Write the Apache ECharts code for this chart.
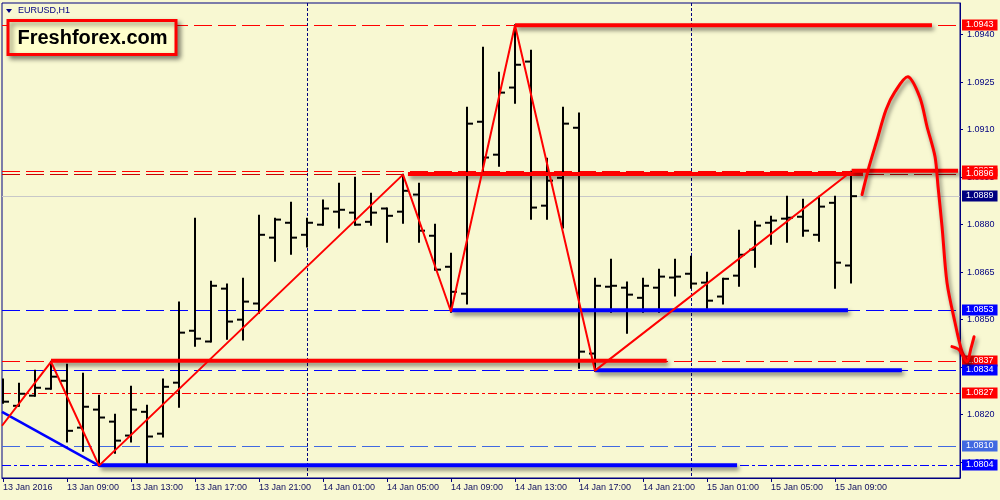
<!DOCTYPE html>
<html><head><meta charset="utf-8">
<script src="https://cdn.jsdelivr.net/npm/echarts@6/dist/echarts.min.js"></script>
<style>html,body{margin:0;padding:0;background:#f8f8d2;}#c{width:1000px;height:500px;}</style>
</head><body><div id="c"></div>
<script>
// ---- data (hour index counted from 13 Jan 00:00) ----
const hours = [5,6,7,8,9,10,11,12,13,14,15,16,17,18,19,20,21,22,23,24,25,26,27,28,29,30,31,32,33,34,35,36,37,38,39,40,41,42,43,44,45,46,47,48,49,50,51,52,53,54,55,56,57,58];
const opens  = [1.08292,1.08228,1.08260,1.08282,1.08307,1.08159,1.08216,1.08178,1.08134,1.08209,1.08140,1.08301,1.08465,1.08431,1.08598,1.08500,1.08551,1.08759,1.08806,1.08768,1.08800,1.08841,1.08838,1.08809,1.08851,1.08841,1.08895,1.08765,1.08667,1.08582,1.09125,1.09021,1.09233,1.09315,1.08860,1.08948,1.09106,1.08393,1.08604,1.08601,1.08569,1.08601,1.08633,1.08645,1.08617,1.08573,1.08639,1.08721,1.08806,1.08819,1.08825,1.08768,1.08869,1.08671];
const highs  = [1.08311,1.08298,1.08339,1.08367,1.08358,1.08329,1.08260,1.08200,1.08288,1.08228,1.08311,1.08554,1.08819,1.08620,1.08611,1.08629,1.08828,1.08819,1.08869,1.08819,1.08876,1.08929,1.08948,1.08898,1.08851,1.08958,1.08929,1.08800,1.08708,1.09169,1.09359,1.09280,1.09430,1.09349,1.09008,1.09169,1.09151,1.08629,1.08689,1.08617,1.08629,1.08658,1.08689,1.08699,1.08648,1.08629,1.08781,1.08809,1.08825,1.08888,1.08879,1.08888,1.08888,1.08967];
const lows   = [1.08238,1.08228,1.08260,1.08282,1.08115,1.08086,1.08039,1.08080,1.08115,1.08042,1.08131,1.08225,1.08418,1.08431,1.08440,1.08437,1.08522,1.08686,1.08708,1.08731,1.08800,1.08791,1.08800,1.08800,1.08746,1.08806,1.08746,1.08658,1.08525,1.08551,1.08967,1.08986,1.09185,1.08819,1.08819,1.08791,1.08348,1.08339,1.08525,1.08459,1.08525,1.08525,1.08576,1.08601,1.08538,1.08551,1.08607,1.08667,1.08740,1.08746,1.08765,1.08749,1.08601,1.08617];
const closes = [1.08241,1.08266,1.08285,1.08320,1.08149,1.08225,1.08191,1.08118,1.08216,1.08131,1.08288,1.08459,1.08440,1.08607,1.08494,1.08557,1.08768,1.08816,1.08759,1.08806,1.08851,1.08847,1.08800,1.08838,1.08828,1.08907,1.08781,1.08658,1.08588,1.09119,1.09012,1.09217,1.09305,1.08854,1.08939,1.09119,1.08399,1.08607,1.08607,1.08579,1.08607,1.08636,1.08636,1.08614,1.08560,1.08629,1.08705,1.08797,1.08813,1.08822,1.08781,1.08857,1.08680,1.08890];

const tickHours  = [5,9,13,17,21,25,29,33,37,41,45,49,53,57];
const tickLabels = ['13 Jan 2016','13 Jan 09:00','13 Jan 13:00','13 Jan 17:00','13 Jan 21:00','14 Jan 01:00','14 Jan 05:00','14 Jan 09:00','14 Jan 13:00','14 Jan 17:00','14 Jan 21:00','15 Jan 01:00','15 Jan 05:00','15 Jan 09:00'];
const priceTicks = [1.0805,1.0820,1.0835,1.0850,1.0865,1.0880,1.0895,1.0910,1.0925,1.0940];
const daySeparators = [24,48];

// horizontal price levels with right-hand tags
const levelPrices = [1.0943,1.0897,1.0896,1.0889,1.0853,1.0837,1.0834,1.0827,1.0810,1.0804];

// zigzag and trend line
const zigzagHours  = [4.9375,8,11,30,33,37,42,58];
const zigzagPrices = [1.08165,1.08367,1.08039,1.08958,1.08525,1.09430,1.08339,1.08967];
const blueTrendHours  = [4.9375,11];
const blueTrendPrices = [1.08209,1.08039];

// thick support / resistance segments
const segFrom  = [37,30.31,58.04,8,33,42,11];
const segTo    = [63.06,58.75,64.69,46.48,57.81,61.18,50.88];
const segPrice = [1.0943,1.0896,1.0897,1.0837,1.0853,1.0834,1.0804];

// hand-drawn forecast curve and its arrow head
const curveHours  = [58.69,59.13,59.63,60.19,60.75,61.56,62.31,62.75,63.25,63.44,63.69,64.0,64.5,64.94,65.31];
const curvePrices = [1.08895,1.08983,1.09068,1.09163,1.09220,1.09267,1.09201,1.09110,1.09015,1.08920,1.08794,1.08617,1.08491,1.08399,1.08367];
const arrowHours  = [64.31,64.75,65.25,65.5,65.69];
const arrowPrices = [1.08415,1.08405,1.08367,1.08410,1.08446];

// ---- styles ----
const NAVY = '#000080';
const FONT = 'Liberation Sans';
const levelStyles = [
  {line:'#ff0000', dash:[18,6], bg:'#ff0000'},
  {line:'#ff0000', dash:[18,6], bg:'#ff0000'},
  {line:'#cc0000', dash:[18,6], bg:'#ff0000'},
  {line:'#c8c8c8', dash:null,   bg:'#000080'},
  {line:'#0000ff', dash:[18,6], bg:'#0000ff'},
  {line:'#ff0000', dash:[18,6], bg:'#ff0000'},
  {line:'#0000ff', dash:[18,6], bg:'#0000ff'},
  {line:'#ff0000', dash:[9,3,3,3], bg:'#ff0000'},
  {line:'#4169e1', dash:[18,6], bg:'#4169e1'},
  {line:'#0000ff', dash:[9,3,3,3], bg:'#0000ff'}
];
const segColors = ['#ff0000','#ff0000','#ff0000','#ff0000','#0000ff','#0000ff','#0000ff'];
const shadow = {shadowColor:'rgba(0,0,0,0.5)', shadowBlur:4, shadowOffsetX:2, shadowOffsetY:3};

const ohlc = hours.map((h,i)=>[h,opens[i],highs[i],lows[i],closes[i]]);

const series = [];
// price level lines + tags
series.push({
  type:'custom', z:1, silent:true, clip:false,
  data:levelPrices.map(p=>[hours[0],p]),
  renderItem:function(params, api){
    const cs = params.coordSys;
    const i = params.dataIndex;
    const y = api.coord([api.value(0), api.value(1)])[1];
    const yy = Math.round(y)+0.5;
    const s = levelStyles[i];
    return {type:'group', children:[
      {type:'line', shape:{x1:cs.x, y1:yy, x2:cs.x+cs.width, y2:yy},
        style:{stroke:s.line, lineWidth:1, lineDash:s.dash}},
      {type:'text', x:cs.x+cs.width+2, y:Math.round(y), z2:10+i,
        style:{text:api.value(1).toFixed(4), fill:'#ffffff', backgroundColor:s.bg,
          padding:[1,4,0,4], font:'9px "Liberation Sans"', align:'left', verticalAlign:'middle', lineHeight:10}}
    ]};
  }
});
// day separators
series.push({
  type:'custom', z:1, silent:true, clip:true,
  data:daySeparators.map(h=>[h,levelPrices[0]]),
  renderItem:function(params, api){
    const cs = params.coordSys;
    const x = Math.round(api.coord([api.value(0), api.value(1)])[0])+0.5;
    return {type:'line', shape:{x1:x, y1:cs.y, x2:x, y2:cs.y+cs.height},
      style:{stroke:NAVY, lineWidth:1, lineDash:[3,2]}};
  }
});
// OHLC bars
series.push({
  type:'custom', clip:true, z:2, silent:true,
  data:ohlc,
  renderItem:function(params, api){
    const x = api.value(0);
    const pO = api.coord([x, api.value(1)]);
    const pH = api.coord([x, api.value(2)]);
    const pL = api.coord([x, api.value(3)]);
    const pC = api.coord([x, api.value(4)]);
    const cx = Math.round(pH[0]);
    const st = {stroke:'#000000', lineWidth:2};
    return {type:'group', children:[
      {type:'line', shape:{x1:cx, y1:pH[1]-1, x2:cx, y2:pL[1]+1}, style:st},
      {type:'line', shape:{x1:cx-6, y1:pO[1], x2:cx, y2:pO[1]}, style:st},
      {type:'line', shape:{x1:cx, y1:pC[1], x2:cx+6, y2:pC[1]}, style:st}
    ]};
  }
});
series.push({
  type:'line', z:4, silent:true, symbol:'none', clip:true,
  data:blueTrendHours.map((h,i)=>[h,blueTrendPrices[i]]),
  lineStyle:{color:'#0000ff', width:2.5}
});
segPrice.forEach((p,i)=>{
  series.push({
    type:'line', z:5, silent:true, symbol:'none', clip:false,
    data:[[segFrom[i],p],[segTo[i],p]],
    lineStyle:Object.assign({color:segColors[i], width:4}, shadow)
  });
});
series.push({
  type:'line', z:6, silent:true, symbol:'none', clip:true,
  data:zigzagHours.map((h,i)=>[h,zigzagPrices[i]]),
  lineStyle:{color:'#ff0000', width:2}
});
// hand-drawn forecast curve with arrow (drawn outside the plot on the right)
series.push({
  type:'custom', z:7, silent:true, clip:false,
  data:[[curveHours[0],curvePrices[0]]],
  renderItem:function(params, api){
    const cpts = curveHours.map((h,i)=>api.coord([h,curvePrices[i]]));
    const apts = arrowHours.map((h,i)=>api.coord([h,arrowPrices[i]]));
    const st = Object.assign({stroke:'#ff0000', lineWidth:3, fill:null, lineJoin:'round', lineCap:'round'}, shadow);
    return {type:'group', children:[
      {type:'polyline', shape:{points:cpts, smooth:0.3}, style:st},
      {type:'polyline', shape:{points:apts, smooth:0.3}, style:st}
    ]};
  }
});

const chart = echarts.init(document.getElementById('c'), null, {renderer:'canvas'});
chart.setOption({
  animation:false,
  backgroundColor:'#f8f8d2',
  grid:{left:2, right:40, top:3, bottom:22, show:true, borderColor:NAVY, borderWidth:1, backgroundColor:'transparent'},
  xAxis:{
    type:'value', min:4.9375, max:64.8125,
    axisLine:{show:true, lineStyle:{color:NAVY, width:1}},
    axisTick:{show:true, customValues:tickHours, length:4, lineStyle:{color:NAVY}},
    axisLabel:{show:true, customValues:tickHours, align:'left', margin:5, color:'#101060',
      fontFamily:FONT, fontSize:9,
      formatter:v=>{const k=tickHours.indexOf(Math.round(v)); return k>=0?tickLabels[k]:'';}},
    splitLine:{show:false}
  },
  yAxis:{
    type:'value', position:'right', min:1.0800, max:1.0950,
    axisLine:{show:true, lineStyle:{color:NAVY, width:1}},
    axisTick:{show:true, customValues:priceTicks, length:3, lineStyle:{color:NAVY}},
    axisLabel:{show:true, customValues:priceTicks, margin:7, color:NAVY,
      fontFamily:FONT, fontSize:9, formatter:v=>v.toFixed(4)},
    splitLine:{show:false}
  },
  graphic:[
    {type:'polygon', shape:{points:[[6,9],[12,9],[9,13]]}, style:{fill:NAVY}, z:100},
    {type:'text', x:18, y:11, style:{text:'EURUSD,H1', fill:NAVY, font:'9px "Liberation Sans"', verticalAlign:'middle'}, z:100},
    {type:'rect', shape:{x:8, y:20.5, width:168, height:34},
     style:{fill:'#ffffcc', stroke:'#ff0000', lineWidth:3, shadowColor:'rgba(0,0,0,0.45)', shadowBlur:5, shadowOffsetX:3, shadowOffsetY:3}, z:100},
    {type:'text', x:92.5, y:38.5, style:{text:'Freshforex.com', fill:'#000000', font:'bold 20px "Liberation Sans"', align:'center', verticalAlign:'middle'}, z:101}
  ],
  series:series
});
</script></body></html>
